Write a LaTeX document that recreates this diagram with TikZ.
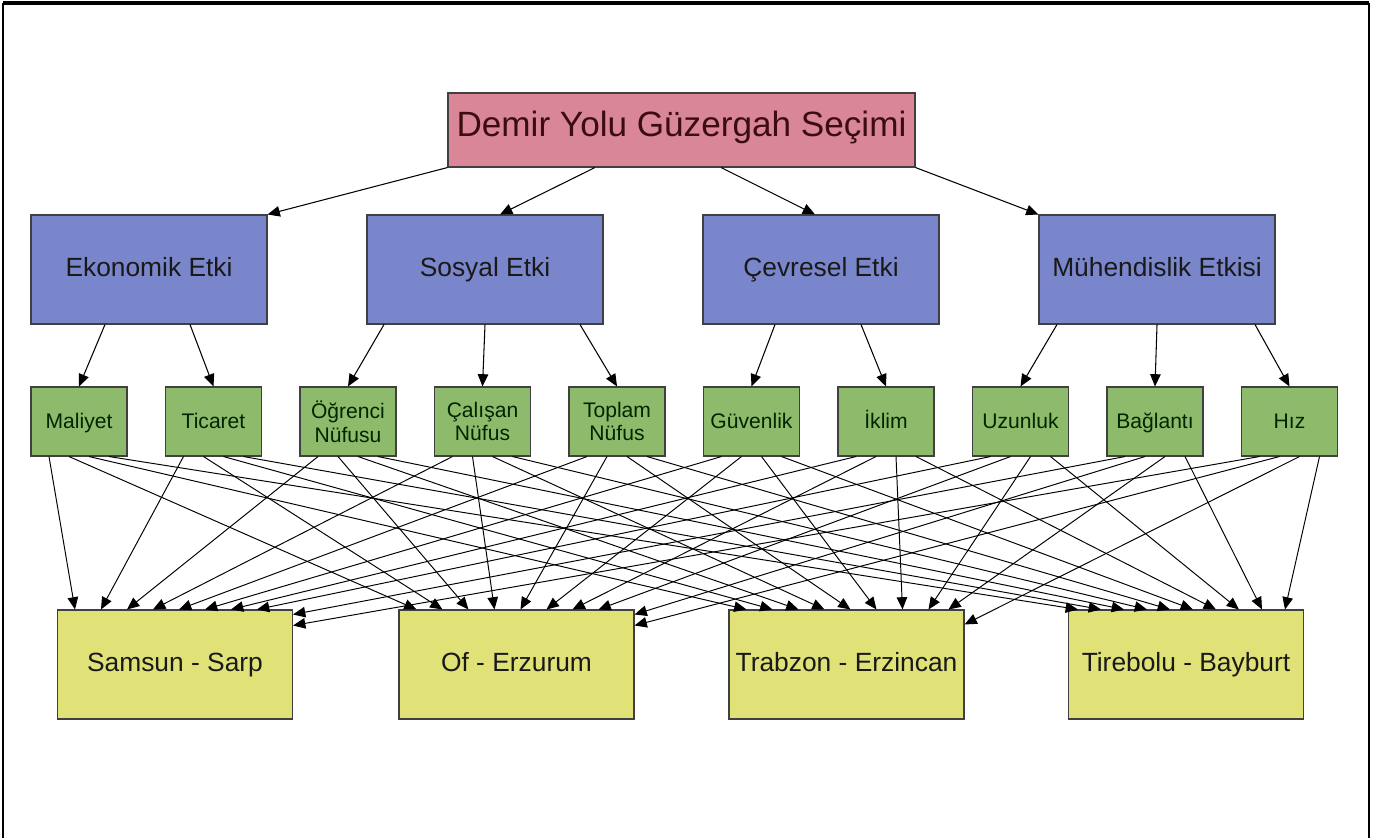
\documentclass[tikz,border=0pt]{standalone}
\usepackage{fontspec}
\setmainfont{Liberation Sans}
\usetikzlibrary{arrows.meta,positioning}
\definecolor{pembe}{RGB}{216,134,152}
\definecolor{mavi}{RGB}{122,134,204}
\definecolor{yesil}{RGB}{141,187,107}
\definecolor{sari}{RGB}{224,226,120}
\definecolor{bordo}{RGB}{60,12,16}

\begin{document}
\begin{tikzpicture}[>={Triangle[length=7pt,width=6pt]},on grid,
    kutu/.style={draw=black!75,line width=0.6pt,inner sep=0pt,align=center,text height=0.98em,text depth=0.2em},
    hedef/.style={kutu,fill=pembe,text=bordo,minimum width=9.34cm,minimum height=1.48cm,font=\fontsize{20}{24}\selectfont},
    kriter/.style={kutu,fill=mavi,text=black!90,minimum width=4.72cm,minimum height=2.18cm,font=\fontsize{15}{18}\selectfont},
    altkriter/.style={kutu,fill=yesil,text=black!85!green,minimum width=1.92cm,minimum height=1.38cm,font=\fontsize{12}{13.5}\selectfont},
    ikisatir/.style={text height=,text depth=},
    secenek/.style={kutu,fill=sari,text=black!90,minimum width=4.7cm,minimum height=2.18cm,font=\fontsize{15}{18}\selectfont}]
  \useasboundingbox (0,0) rectangle (27.46,-16.74);
  % cerceve
  \draw[line width=2pt] (0.06,-0.06) -- (27.38,-0.06);
  \draw[line width=0.9pt] (0.06,-0.06) -- (0.06,-16.9) (27.38,-0.06) -- (27.38,-16.9);

  \node[hedef] (goal) at (13.63,-2.6) {Demir Yolu Güzergah Seçimi};

  \node[kriter] (ekonomik) [below left=2.79cm and 10.65cm of goal] {Ekonomik Etki};
  \node[kriter] (sosyal) [right=6.72cm of ekonomik] {Sosyal Etki};
  \node[kriter] (cevresel) [right=6.72cm of sosyal] {Çevresel Etki};
  \node[kriter] (muhendislik) [right=6.72cm of cevresel] {Mühendislik Etkisi};

  \node[altkriter] (maliyet) [below left=3.04cm and 1.4cm of ekonomik] {Maliyet};
  \node[altkriter] (ticaret) [right=2.69cm of maliyet] {Ticaret};
  \node[altkriter,ikisatir] (ogrenci) [right=2.69cm of ticaret] {Öğrenci\\Nüfusu};
  \node[altkriter,ikisatir] (calisan) [right=2.69cm of ogrenci] {Çalışan\\Nüfus};
  \node[altkriter,ikisatir] (toplam) [right=2.69cm of calisan] {Toplam\\Nüfus};
  \node[altkriter] (guvenlik) [right=2.69cm of toplam] {Güvenlik};
  \node[altkriter] (iklim) [right=2.69cm of guvenlik] {İklim};
  \node[altkriter] (uzunluk) [right=2.69cm of iklim] {Uzunluk};
  \node[altkriter] (baglanti) [right=2.69cm of uzunluk] {Bağlantı};
  \node[altkriter] (hiz) [right=2.69cm of baglanti] {Hız};

  \node[secenek] (samsun) [below right=4.86cm and 1.92cm of maliyet] {Samsun - Sarp};
  \node[secenek] (oferz) [right=6.83cm of samsun] {Of - Erzurum};
  \node[secenek] (trabzon) [right=6.6cm of oferz] {Trabzon - Erzincan};
  \node[secenek] (tirebolu) [right=6.79cm of trabzon] {Tirebolu - Bayburt};

  \path[->,line width=0.6pt]
  (goal.south west) edge (ekonomik.north east)
  ([xshift=-1.73cm]goal.south) edge ([xshift=0.3cm]sosyal.north)
  ([xshift=0.79cm]goal.south) edge ([xshift=-0.12cm]cevresel.north)
  (goal.south east) edge (muhendislik.north west)
  ([xshift=-0.88cm]ekonomik.south) edge (maliyet.north)
  ([xshift=0.82cm]ekonomik.south) edge (ticaret.north)
  ([xshift=-2.02cm]sosyal.south) edge (ogrenci.north)
  (sosyal.south) edge (calisan.north)
  ([xshift=1.9cm]sosyal.south) edge (toplam.north)
  ([xshift=-0.92cm]cevresel.south) edge (guvenlik.north)
  ([xshift=0.8cm]cevresel.south) edge (iklim.north)
  ([xshift=-2cm]muhendislik.south) edge (uzunluk.north)
  (muhendislik.south) edge (baglanti.north)
  ([xshift=1.96cm]muhendislik.south) edge (hiz.north)
  ;
  % Samsun - Sarp
  \path[->,line width=0.55pt]
  ([xshift=-0.6cm]maliyet.south) edge ([xshift=0.36cm]samsun.north west)
  ([xshift=-0.6cm]ticaret.south) edge ([xshift=0.88cm]samsun.north west)
  ([xshift=-0.6cm]ogrenci.south) edge ([xshift=1.4cm]samsun.north west)
  ([xshift=-0.6cm]calisan.south) edge ([xshift=1.92cm]samsun.north west)
  ([xshift=-0.6cm]toplam.south) edge ([xshift=2.44cm]samsun.north west)
  ([xshift=-0.6cm]guvenlik.south) edge ([xshift=2.96cm]samsun.north west)
  ([xshift=-0.6cm]iklim.south) edge ([xshift=3.48cm]samsun.north west)
  ([xshift=-0.6cm]uzunluk.south) edge ([xshift=4cm]samsun.north west)
  ([xshift=-0.6cm]baglanti.south) edge ([yshift=-0.1cm]samsun.north east)
  ([xshift=-0.6cm]hiz.south) edge ([yshift=-0.32cm]samsun.north east)
  ;
  % Of - Erzurum
  \path[->,line width=0.55pt]
  ([xshift=-0.2cm]maliyet.south) edge ([xshift=0.36cm]oferz.north west)
  ([xshift=-0.2cm]ticaret.south) edge ([xshift=0.88cm]oferz.north west)
  ([xshift=-0.2cm]ogrenci.south) edge ([xshift=1.4cm]oferz.north west)
  ([xshift=-0.2cm]calisan.south) edge ([xshift=1.92cm]oferz.north west)
  ([xshift=-0.2cm]toplam.south) edge ([xshift=2.44cm]oferz.north west)
  ([xshift=-0.2cm]guvenlik.south) edge ([xshift=2.96cm]oferz.north west)
  ([xshift=-0.2cm]iklim.south) edge ([xshift=3.48cm]oferz.north west)
  ([xshift=-0.2cm]uzunluk.south) edge ([xshift=4cm]oferz.north west)
  ([xshift=-0.2cm]baglanti.south) edge ([yshift=-0.1cm]oferz.north east)
  ([xshift=-0.2cm]hiz.south) edge ([yshift=-0.32cm]oferz.north east)
  ;
  % Trabzon - Erzincan
  \path[->,line width=0.55pt]
  ([xshift=0.2cm]maliyet.south) edge ([xshift=0.36cm]trabzon.north west)
  ([xshift=0.2cm]ticaret.south) edge ([xshift=0.88cm]trabzon.north west)
  ([xshift=0.2cm]ogrenci.south) edge ([xshift=1.4cm]trabzon.north west)
  ([xshift=0.2cm]calisan.south) edge ([xshift=1.92cm]trabzon.north west)
  ([xshift=0.2cm]toplam.south) edge ([xshift=2.44cm]trabzon.north west)
  ([xshift=0.2cm]guvenlik.south) edge ([xshift=2.96cm]trabzon.north west)
  ([xshift=0.2cm]iklim.south) edge ([xshift=3.48cm]trabzon.north west)
  ([xshift=0.2cm]uzunluk.south) edge ([xshift=4cm]trabzon.north west)
  ([xshift=0.2cm]baglanti.south) edge ([xshift=4.4cm]trabzon.north west)
  ([xshift=0.2cm]hiz.south) edge ([yshift=-0.3cm]trabzon.north east)
  ;
  % Tirebolu - Bayburt
  \path[->,line width=0.55pt]
  ([xshift=0.6cm]maliyet.south) edge ([xshift=0.2cm]tirebolu.north west)
  ([xshift=0.6cm]ticaret.south) edge ([xshift=0.66cm]tirebolu.north west)
  ([xshift=0.6cm]ogrenci.south) edge ([xshift=1.12cm]tirebolu.north west)
  ([xshift=0.6cm]calisan.south) edge ([xshift=1.58cm]tirebolu.north west)
  ([xshift=0.6cm]toplam.south) edge ([xshift=2.04cm]tirebolu.north west)
  ([xshift=0.6cm]guvenlik.south) edge ([xshift=2.5cm]tirebolu.north west)
  ([xshift=0.6cm]iklim.south) edge ([xshift=2.96cm]tirebolu.north west)
  ([xshift=0.6cm]uzunluk.south) edge ([xshift=3.42cm]tirebolu.north west)
  ([xshift=0.6cm]baglanti.south) edge ([xshift=3.88cm]tirebolu.north west)
  ([xshift=0.6cm]hiz.south) edge ([xshift=4.34cm]tirebolu.north west)
  ;
\end{tikzpicture}
\end{document}
